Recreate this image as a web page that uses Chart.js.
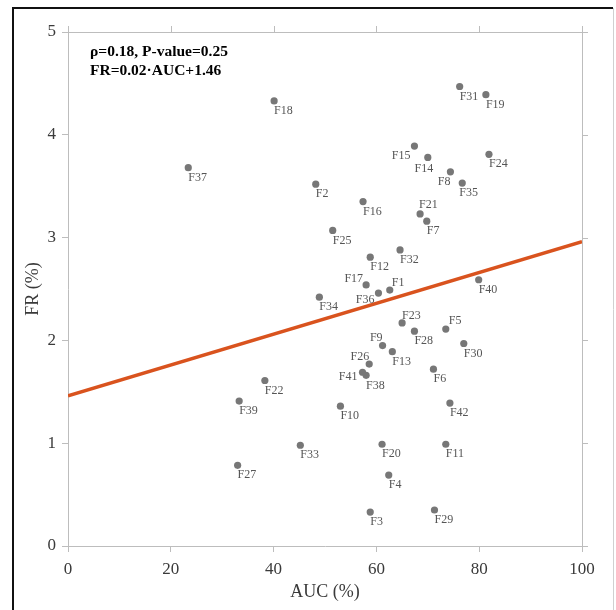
<!DOCTYPE html>
<html>
<head>
<meta charset="utf-8">
<script src="https://cdn.jsdelivr.net/npm/chart.js@4.4.1/dist/chart.umd.min.js"></script>
<style>
  html, body { margin: 0; padding: 0; background: #ffffff; }
  #wrap { width: 616px; height: 610px; position: relative; }
</style>
</head>
<body>
<div id="wrap"><canvas id="c" width="616" height="610"></canvas></div>
<script>
// ---- data ----
const names = ['F1','F2','F3','F4','F5','F6','F7','F8','F9','F10','F11','F12','F13','F14','F15','F16','F17','F18','F19','F20','F21','F22','F23','F24','F25','F26','F27','F28','F29','F30','F31','F32','F33','F34','F35','F36','F37','F38','F39','F40','F41','F42'];
const auc = [62.6,48.2,58.8,62.4,73.5,71.1,69.8,74.4,61.2,53.0,73.5,58.8,63.1,70.0,67.4,57.4,58.0,40.1,81.3,61.1,68.5,38.3,65.0,81.9,51.5,58.6,33.0,67.4,71.3,77.0,76.2,64.6,45.2,48.9,76.7,60.4,23.4,58.0,33.3,79.9,57.3,74.3];
const fr  = [2.49,3.52,0.33,0.69,2.11,1.72,3.16,3.64,1.95,1.36,0.99,2.81,1.89,3.78,3.89,3.35,2.54,4.33,4.39,0.99,3.23,1.61,2.17,3.81,3.07,1.77,0.785,2.09,0.35,1.97,4.47,2.88,0.98,2.42,3.53,2.46,3.68,1.66,1.41,2.59,1.69,1.39];
const fitX = [0, 100];
const fitY = [1.46, 2.96];
const xTicks = [0, 20, 40, 60, 80, 100];
const yTicks = [0, 1, 2, 3, 4, 5];
const annotLines = ['\u03c1=0.18, P-value=0.25', 'FR=0.02\u00b7AUC+1.46'];

// ---- label placement (style only) ----
const labelPlace = {
  F15: {align:'right', dx:-4, dy:10},
  F14: {align:'center', dx:-4, dy:11},
  F8:  {align:'right', dx:0, dy:10},
  F35: {align:'left', dx:-3, dy:10},
  F21: {align:'left', dx:-1, dy:-9},
  F17: {align:'right', dx:-3, dy:-6},
  F1:  {align:'left', dx:2, dy:-7},
  F36: {align:'right', dx:-4, dy:7},
  F23: {align:'left', dx:0, dy:-7},
  F5:  {align:'left', dx:3, dy:-8},
  F9:  {align:'right', dx:0, dy:-8},
  F26: {align:'right', dx:0, dy:-7},
  F41: {align:'right', dx:-5, dy:5}
};

const SERIF = '"Liberation Serif", "Times New Roman", serif';
const BOXC = '#bdbdbd';

const points = names.map((n, i) => ({x: auc[i], y: fr[i]}));
const fitLine = fitX.map((x, i) => ({x: x, y: fitY[i]}));

const decor = {
  id: 'decor',
  beforeDraw(chart) {
    const ctx = chart.ctx;
    ctx.save();
    ctx.fillStyle = '#ffffff';
    ctx.fillRect(0, 0, chart.width, chart.height);
    ctx.restore();
  },
  afterDraw(chart) {
    const ctx = chart.ctx;
    const a = chart.chartArea;
    const xs = chart.scales.x, ys = chart.scales.y;
    ctx.save();
    // top and right box lines + outward ticks
    ctx.strokeStyle = BOXC;
    ctx.lineWidth = 1;
    ctx.beginPath();
    ctx.moveTo(a.left, a.top + 0.5); ctx.lineTo(a.right + 6, a.top + 0.5);
    ctx.moveTo(a.right + 0.5, a.top - 6); ctx.lineTo(a.right + 0.5, a.bottom);
    xTicks.forEach(v => { const px = Math.round(xs.getPixelForValue(v)) + 0.5; ctx.moveTo(px, a.top); ctx.lineTo(px, a.top - 6); });
    yTicks.forEach(v => { const py = Math.round(ys.getPixelForValue(v)) + 0.5; ctx.moveTo(a.right, py); ctx.lineTo(a.right + 6, py); });
    ctx.stroke();
    // outer frame
    ctx.strokeStyle = '#111111';
    ctx.lineWidth = 2;
    ctx.beginPath();
    ctx.moveTo(13, 611); ctx.lineTo(13, 8); ctx.lineTo(613, 8);
    ctx.stroke();
    ctx.strokeStyle = '#d0d0d0';
    ctx.lineWidth = 1;
    ctx.beginPath();
    ctx.moveTo(613.5, 8); ctx.lineTo(613.5, 611);
    ctx.stroke();
    // annotation
    ctx.fillStyle = '#000000';
    ctx.font = 'bold 15.5px ' + SERIF;
    ctx.textAlign = 'left';
    ctx.textBaseline = 'middle';
    annotLines.forEach((t, i) => ctx.fillText(t, 90, 52 + i * 19));
    // point labels
    const meta = chart.getDatasetMeta(1);
    ctx.font = '12px ' + SERIF;
    ctx.fillStyle = '#555555';
    meta.data.forEach((el, i) => {
      const p = labelPlace[names[i]] || {align:'left', dx:0, dy:10};
      ctx.textAlign = p.align;
      ctx.fillText(names[i], el.x + p.dx, el.y + p.dy);
    });
    ctx.restore();
  }
};

new Chart(document.getElementById('c'), {
  type: 'scatter',
  data: {
    datasets: [
      {
        type: 'line',
        data: fitLine,
        borderColor: '#d9531e',
        borderWidth: 3.5,
        pointRadius: 0,
        fill: false,
        order: 2
      },
      {
        data: points,
        backgroundColor: '#777777',
        borderColor: '#777777',
        borderWidth: 0,
        pointRadius: 3.6,
        order: 1
      }
    ]
  },
  options: {
    responsive: false,
    animation: false,
    layout: { padding: { top: 32, right: 34, left: 0, bottom: 0 } },
    plugins: { legend: { display: false }, tooltip: { enabled: false } },
    scales: {
      x: {
        type: 'linear', min: 0, max: 100,
        afterBuildTicks(s) { s.ticks = xTicks.map(v => ({value: v})); },
        ticks: { font: { family: SERIF, size: 17 }, color: '#3a3a3a', padding: 7, maxRotation: 0 },
        grid: { drawOnChartArea: false, drawTicks: true, tickLength: 6, color: BOXC },
        border: { display: true, color: BOXC },
        title: { display: true, text: 'AUC (%)', color: '#3a3a3a', font: { family: SERIF, size: 18 }, padding: { top: 0, bottom: 7 } },
        afterFit(s) { s.height = 64; }
      },
      y: {
        type: 'linear', min: 0, max: 5,
        afterBuildTicks(s) { s.ticks = yTicks.map(v => ({value: v})); },
        ticks: { font: { family: SERIF, size: 17 }, color: '#3a3a3a', padding: 6 },
        grid: { drawOnChartArea: false, drawTicks: true, tickLength: 6, color: BOXC },
        border: { display: true, color: BOXC },
        title: { display: true, text: 'FR (%)', color: '#3a3a3a', font: { family: SERIF, size: 18 }, padding: { top: 22, bottom: 0 } },
        afterFit(s) { s.width = 68; }
      }
    }
  },
  plugins: [decor]
});
</script>
</body>
</html>
